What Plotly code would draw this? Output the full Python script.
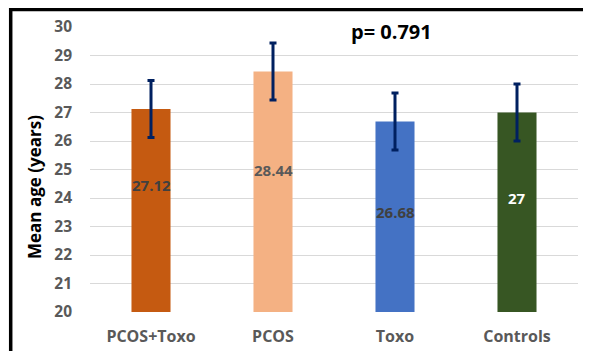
import plotly.graph_objects as go

categories = ["PCOS+Toxo", "PCOS", "Toxo", "Controls"]
mean_age = [27.12, 28.44, 26.68, 27]
error = [1, 1, 1, 1]
value_labels = ["27.12", "28.44", "26.68", "27"]
y_ticks = list(range(20, 31))
p_text = "p= 0.791"

bar_colors = ["#C55A11", "#F4B183", "#4472C4", "#375623"]
label_colors = ["#404040", "#595959", "#404040", "#FFFFFF"]
label_y = [24.45, 25.0, 23.5, 24.0]

FONT = "Open Sans"

fig = go.Figure()
fig.add_trace(go.Bar(
    x=categories, y=mean_age,
    marker=dict(color=bar_colors, line=dict(width=0)),
    error_y=dict(type="data", array=error, visible=True,
                 color="#002060", thickness=3, width=3.5),
    hoverinfo="skip",
))

annotations = []
for c, lab, ly, col in zip(categories, value_labels, label_y, label_colors):
    annotations.append(dict(x=c, y=ly, text=lab, showarrow=False,
                            xref="x", yref="y",
                            font=dict(family=FONT, size=15, color=col, weight="bold")))
annotations.append(dict(x=0.617, y=29.85, xref="paper", yref="y", text=p_text,
                        showarrow=False, bgcolor="white", borderpad=2,
                        xanchor="center",
                        font=dict(family=FONT, size=20, color="#000000", weight="bold")))
annotations.append(dict(x=-0.1127, y=0.4386, xref="paper", yref="paper",
                        xanchor="center", yanchor="middle",
                        text="Mean age (years)", textangle=-90, showarrow=False,
                        font=dict(family=FONT, size=17, color="#000000", weight="bold")))

fig.update_layout(
    width=583, height=343,
    margin=dict(l=82, r=13, t=19, b=39),
    paper_bgcolor="white", plot_bgcolor="white",
    bargap=0.68,
    showlegend=False,
    annotations=annotations,
    shapes=[
        dict(type="line", xref="paper", yref="paper", x0=-0.1625, x1=1.03,
             y0=1.061, y1=1.061,
             line=dict(color="black", width=3.5)),
        dict(type="line", xref="paper", yref="paper", x0=-0.1625, x1=-0.1625,
             y0=1.067, y1=-0.2,
             line=dict(color="black", width=3.5)),
    ],
    xaxis=dict(
        range=[-0.5, 3.5], showgrid=False, zeroline=False, showline=False,
        automargin=False,
        ticks="", tickfont=dict(family=FONT, size=16, color="#595959", weight="bold"),
        ticklabelstandoff=13,
    ),
    yaxis=dict(
        range=[20, 30], tickvals=y_ticks, showgrid=True, gridcolor="#D9D9D9",
        gridwidth=1, zeroline=False, showline=False, ticks="",
        automargin=False,
        tickfont=dict(family=FONT, size=15.5, color="#595959", weight="bold"),
        ticklabelstandoff=17,
    ),
)

fig.write_html("out.html")
